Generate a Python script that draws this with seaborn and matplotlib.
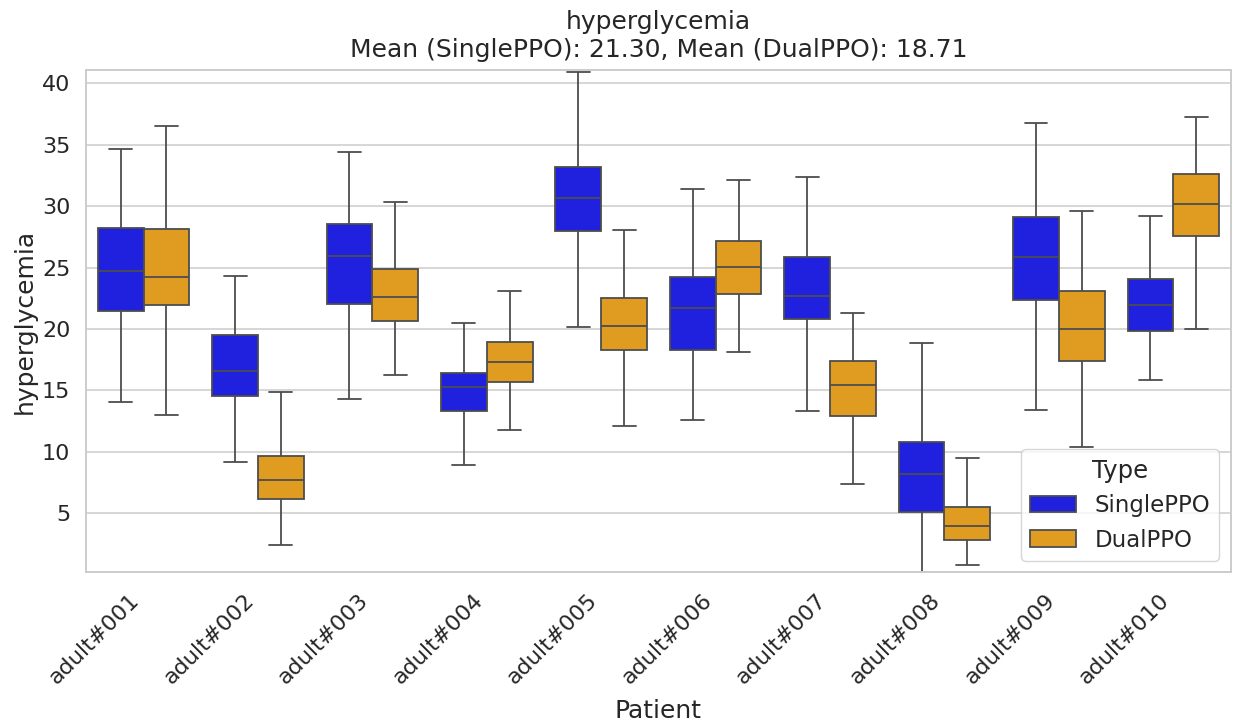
import numpy as np
import pandas as pd
import matplotlib
matplotlib.use("Agg")
import matplotlib.pyplot as plt
import seaborn as sns

patients = [f"adult#{i:03d}" for i in range(1, 11)]
types = ["SinglePPO", "DualPPO"]

# five-number summaries: [whisker low, Q1, median, Q3, whisker high]
single_low = [14.08, 9.16, 14.27, 8.95, 20.14, 12.62, 13.35, 0.0, 13.43, 15.84]
single_q1 = [21.50, 14.52, 22.01, 13.35, 27.94, 18.26, 20.77, 5.06, 22.34, 19.81]
single_med = [24.70, 16.58, 25.95, 15.30, 30.68, 21.69, 22.72, 8.21, 25.84, 21.99]
single_q3 = [28.26, 19.49, 28.56, 16.41, 33.15, 24.27, 25.84, 10.82, 29.10, 24.08]
single_high = [34.62, 24.30, 34.43, 20.52, 40.95, 31.41, 32.34, 18.86, 36.74, 29.21]

dual_low = [13.02, 2.37, 16.28, 11.77, 12.10, 18.13, 7.37, 0.82, 10.38, 20.03]
dual_q1 = [21.91, 6.14, 20.68, 15.66, 18.26, 22.83, 12.94, 2.78, 17.42, 27.56]
dual_med = [24.19, 7.67, 22.64, 17.31, 20.25, 25.03, 15.44, 3.92, 20.03, 30.14]
dual_q3 = [28.13, 9.65, 24.89, 18.94, 22.50, 27.20, 17.39, 5.49, 23.13, 32.63]
dual_high = [36.52, 14.87, 30.33, 23.05, 28.04, 32.12, 21.26, 9.46, 29.59, 37.25]

mean_single = 21.30
mean_dual = 18.71

rows = []
for i, p in enumerate(patients):
    for v in (single_low[i], single_q1[i], single_med[i], single_q3[i], single_high[i]):
        rows.append({"Patient": p, "Type": "SinglePPO", "hyperglycemia": v})
    for v in (dual_low[i], dual_q1[i], dual_med[i], dual_q3[i], dual_high[i]):
        rows.append({"Patient": p, "Type": "DualPPO", "hyperglycemia": v})
df = pd.DataFrame(rows)

sns.set_theme(style="whitegrid")
plt.rcParams.update({
    "font.family": ["DejaVu Sans"],
    "axes.labelsize": 18,
    "axes.titlesize": 18,
    "xtick.labelsize": 16,
    "ytick.labelsize": 16,
    "xtick.major.pad": 7,
    "ytick.major.pad": 5.5,
    "legend.fontsize": 16.5,
    "legend.title_fontsize": 17.5,
    "grid.linewidth": 1.1,
    "axes.linewidth": 1.4,
})

fig, ax = plt.subplots(figsize=(12.33, 7.27), dpi=100)
sns.boxplot(data=df, x="Patient", y="hyperglycemia", hue="Type", order=patients,
            hue_order=types, palette={"SinglePPO": "blue", "DualPPO": "orange"},
            whis=np.inf, showfliers=False, linewidth=1.3, ax=ax)
ax.set_ylim(0.2, 41.1)
ax.set_yticks([5, 10, 15, 20, 25, 30, 35, 40])
ax.set_title(f"hyperglycemia\nMean (SinglePPO): {mean_single:.2f}, Mean (DualPPO): {mean_dual:.2f}",
             pad=9)
ax.set_xlabel("Patient", labelpad=8)
plt.setp(ax.get_xticklabels(), rotation=45, ha="right")
ax.legend(title="Type", loc="lower right")
fig.subplots_adjust(left=0.07, right=0.998, top=0.904, bottom=0.213)
fig.savefig("out.png", dpi=100)
